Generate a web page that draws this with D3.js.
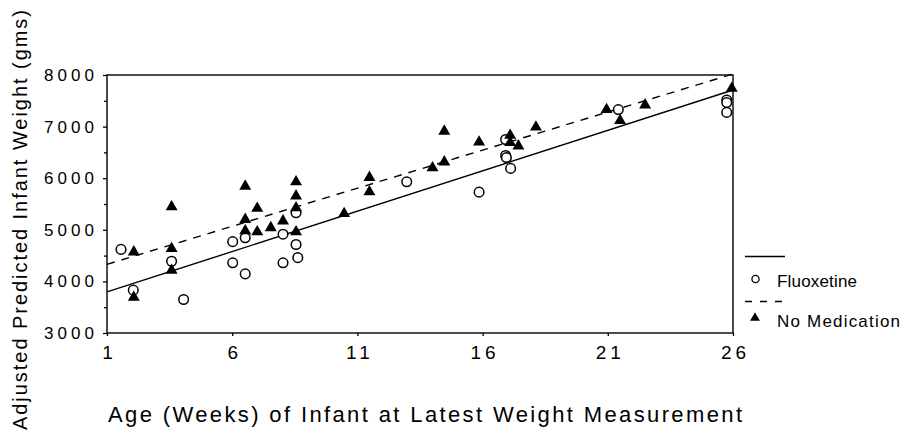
<!DOCTYPE html>
<html>
<head>
<meta charset="utf-8">
<script src="https://cdn.jsdelivr.net/npm/d3@7"></script>
<style>
  html, body { margin: 0; padding: 0; background: #fff; }
  svg { display: block; font-family: "Liberation Sans", Arial, Helvetica, sans-serif; }
</style>
</head>
<body>
<svg id="chart" width="913" height="435"></svg>
<script>
// ---- Data ----
const xTicks = [1, 6, 11, 16, 21, 26];
const yTicks = [3000, 4000, 5000, 6000, 7000, 8000];
const yMinorTicks = [3500, 4500, 5500, 6500, 7500];

// Fluoxetine (open circles): week and grams
const fluoxetineWeeks = [1.56, 2.05, 3.58, 4.06, 6.02, 6.02, 6.52, 6.52, 8.03, 8.03, 8.55, 8.55, 8.62,
                         12.97, 15.86, 16.92, 16.92, 16.95, 17.12, 21.42, 25.75, 25.75, 25.75];
const fluoxetineGrams = [4620, 3830, 4390, 3650, 4770, 4360, 4845, 4145, 4915, 4360, 5330, 4715, 4460,
                         5930, 5730, 6750, 6440, 6400, 6190, 7330, 7515, 7465, 7275];

// No Medication (filled triangles): week and grams
const noMedWeeks = [2.07, 2.07, 3.58, 3.58, 3.58, 6.52, 6.52, 6.52, 7.0, 7.0, 7.54, 8.03, 8.55, 8.55, 8.55, 8.55,
                    10.47, 11.48, 11.48, 14.0, 14.47, 14.47, 15.86, 17.1, 17.1, 17.43, 18.13, 20.95, 21.49, 22.49, 25.95];
const noMedGrams = [4570, 3690, 5445, 4635, 4215, 5845, 5200, 4980, 5415, 4960, 5040, 5170, 5930, 5655, 5425, 4960,
                    5315, 6015, 5735, 6200, 6910, 6315, 6700, 6830, 6690, 6625, 6990, 7330, 7115, 7420, 7740];

// Fitted regression lines: endpoints [week, grams]
const fluoxetineFit = [[1, 3796], [26, 7709]];
const noMedFit = [[1, 4330], [26, 8020]];

const legendLabels = ["Fluoxetine", "No Medication"];
const xTitle = "Age (Weeks) of Infant at Latest Weight Measurement";
const yTitle = "Adjusted Predicted Infant Weight (gms)";

// ---- Layout ----
const svg = d3.select("#chart");
const pL = 107, pR = 733, pT = 75, pB = 333;
const x = d3.scaleLinear().domain([1, 26]).range([pL, pR]);
const y = d3.scaleLinear().domain([3000, 8000]).range([pB, pT]);
const ink = "#000";

// Frame
svg.append("rect")
  .attr("x", pL).attr("y", pT)
  .attr("width", pR - pL).attr("height", pB - pT)
  .attr("fill", "none").attr("stroke", ink).attr("stroke-width", 1.4);

// Y axis
const yAxis = d3.axisLeft(y).tickValues(yTicks).tickSize(4).tickPadding(9)
  .tickFormat(d3.format("d"));
const gy = svg.append("g").attr("transform", `translate(${pL},0)`).call(yAxis);
gy.select(".domain").remove();
gy.selectAll(".tick line").attr("stroke", ink).attr("stroke-width", 1.3);
gy.selectAll(".tick text")
  .attr("font-size", 17).attr("fill", "#000")
  .attr("font-family", "Liberation Sans, Arial, sans-serif")
  .attr("textLength", 50).attr("lengthAdjust", "spacing");
const yMinor = d3.axisLeft(y).tickValues(yMinorTicks).tickSize(3).tickFormat("");
const gym = svg.append("g").attr("transform", `translate(${pL},0)`).call(yMinor);
gym.select(".domain").remove();
gym.selectAll(".tick line").attr("stroke", ink).attr("stroke-width", 1.3);

// X axis
const xAxis = d3.axisBottom(x).tickValues(xTicks).tickSize(3).tickPadding(10)
  .tickFormat(d3.format("d"));
const gx = svg.append("g").attr("transform", `translate(0,${pB})`).call(xAxis);
gx.select(".domain").remove();
gx.selectAll(".tick line").attr("stroke", ink).attr("stroke-width", 1.3);
gx.selectAll(".tick text")
  .attr("font-size", 19).attr("fill", "#000")
  .attr("font-family", "Liberation Sans, Arial, sans-serif")
  .attr("letter-spacing", 4).attr("dx", 2);

// Regression lines
const line = d3.line().x(d => x(d[0])).y(d => y(d[1]));
svg.append("path").datum(fluoxetineFit).attr("d", line)
  .attr("fill", "none").attr("stroke", ink).attr("stroke-width", 1.4);
svg.append("path").datum(noMedFit).attr("d", line)
  .attr("fill", "none").attr("stroke", ink).attr("stroke-width", 1.4)
  .attr("stroke-dasharray", "8,7");

// Points
const flu = fluoxetineWeeks.map((w, i) => [w, fluoxetineGrams[i]]);
const nom = noMedWeeks.map((w, i) => [w, noMedGrams[i]]);

svg.append("g").selectAll("circle").data(flu).join("circle")
  .attr("cx", d => x(d[0])).attr("cy", d => y(d[1])).attr("r", 4.8)
  .attr("fill", "#fff").attr("stroke", ink).attr("stroke-width", 1.5);

const tri = d3.symbol().type(d3.symbolTriangle).size(62);
svg.append("g").selectAll("path").data(nom).join("path")
  .attr("d", tri)
  .attr("transform", d => `translate(${x(d[0])},${y(d[1])})`)
  .attr("fill", "#000");

// Legend
const lg = svg.append("g");
lg.append("line").attr("x1", 745).attr("x2", 785).attr("y1", 256.5).attr("y2", 256.5)
  .attr("stroke", ink).attr("stroke-width", 1.3);
lg.append("circle").attr("cx", 755.5).attr("cy", 279).attr("r", 3.6)
  .attr("fill", "#fff").attr("stroke", ink).attr("stroke-width", 1.3);
lg.append("text").attr("x", 777).attr("y", 287).attr("font-size", 17)
  .attr("textLength", 80).attr("lengthAdjust", "spacing").text(legendLabels[0]);
lg.append("line").attr("x1", 745).attr("x2", 785).attr("y1", 301.5).attr("y2", 301.5)
  .attr("stroke", ink).attr("stroke-width", 1.3).attr("stroke-dasharray", "7,8");
lg.append("path").attr("d", d3.symbol().type(d3.symbolTriangle).size(42))
  .attr("transform", "translate(755,318)").attr("fill", "#000");
lg.append("text").attr("x", 777).attr("y", 327).attr("font-size", 17)
  .attr("textLength", 123).attr("lengthAdjust", "spacing").text(legendLabels[1]);

// Axis titles
svg.append("text").attr("x", 108).attr("y", 422).attr("font-size", 22)
  .attr("textLength", 634).attr("lengthAdjust", "spacing").text(xTitle);
svg.append("text").attr("transform", "translate(27,220) rotate(-90)")
  .attr("text-anchor", "middle").attr("font-size", 20)
  .attr("textLength", 420).attr("lengthAdjust", "spacing").text(yTitle);
</script>
</body>
</html>
